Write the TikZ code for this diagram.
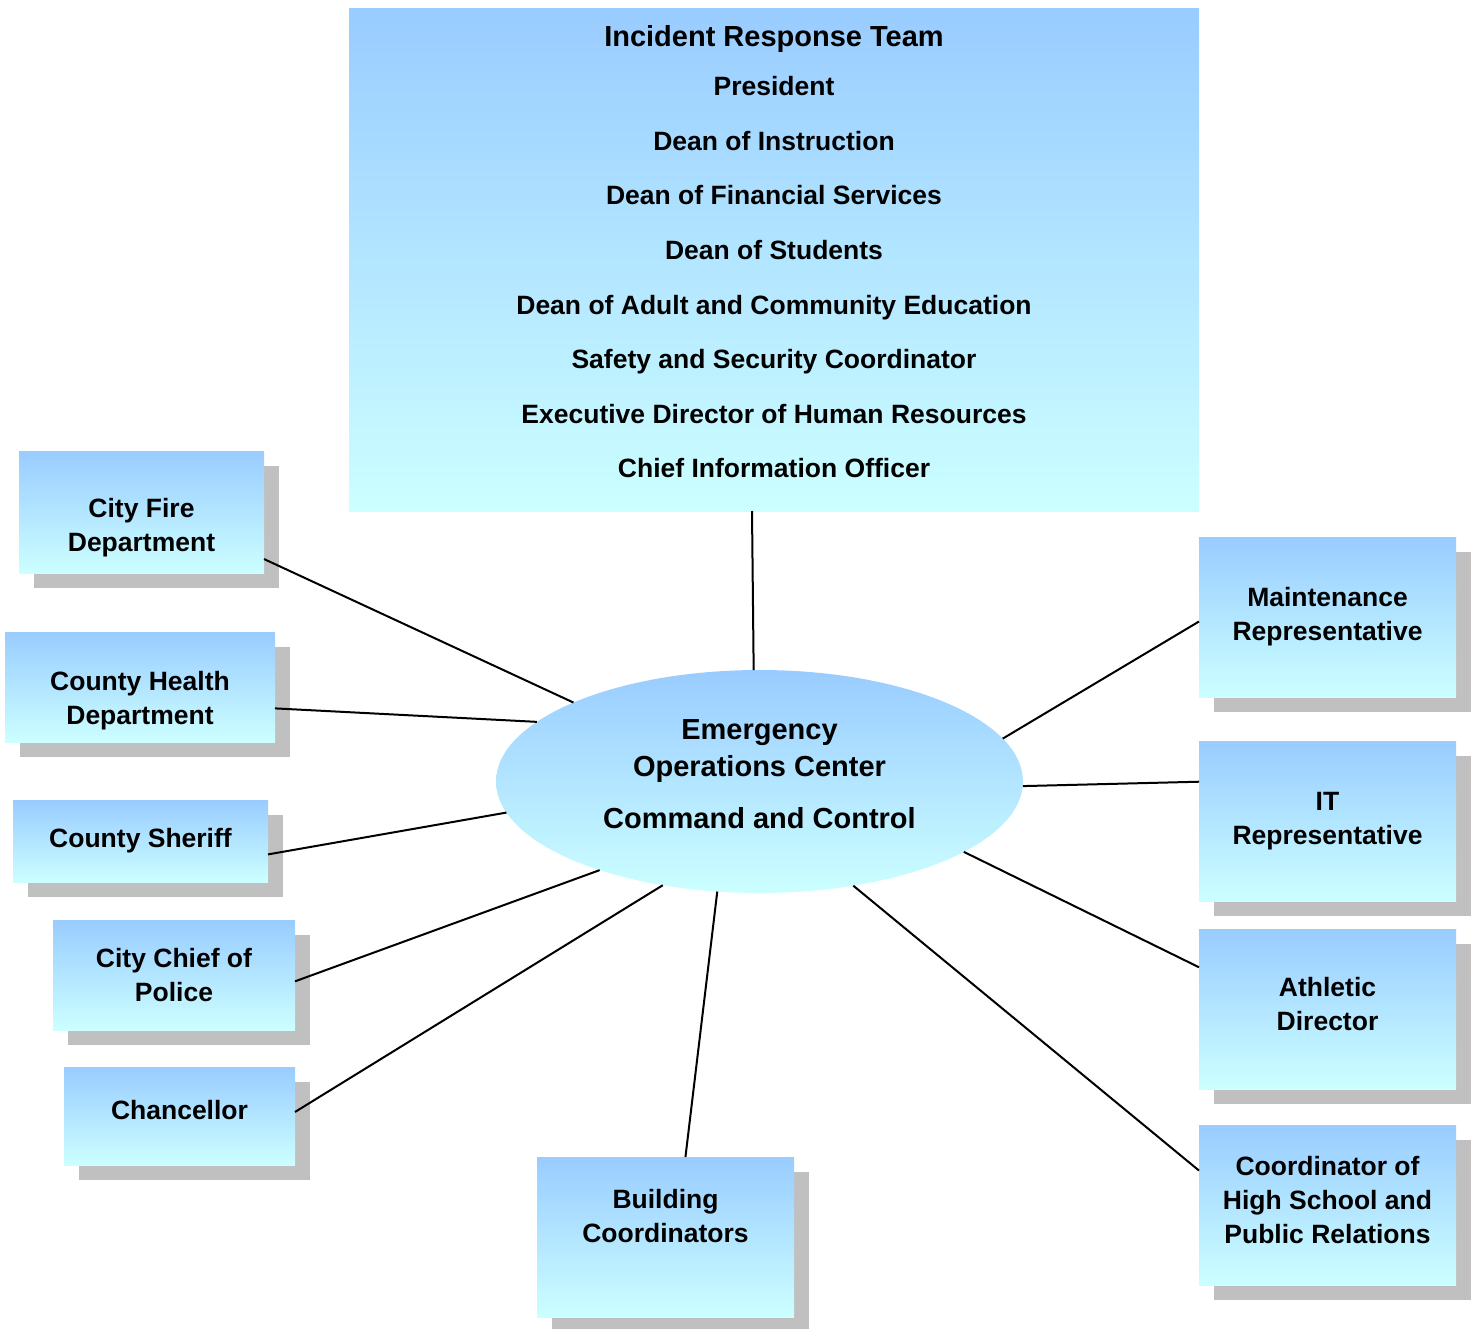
\documentclass[tikz,border=0pt]{standalone}
\usepackage{fontspec}
\setmainfont{Liberation Sans}
\usetikzlibrary{shapes.geometric,shadows}
\definecolor{topblue}{HTML}{99CCFF}
\definecolor{lowcyan}{HTML}{CCFFFF}
\definecolor{shadowgray}{HTML}{C0C0C0}
\tikzset{
  grad/.style={top color=topblue,bottom color=lowcyan,draw=none,inner sep=0pt,outer sep=0pt,align=center,
    font=\bfseries\fontsize{26.5}{34}\selectfont},
  unit/.style={grad,rectangle,minimum width=257pt,minimum height=160pt,
    drop shadow={shadow xshift=15pt,shadow yshift=-15pt,fill=shadowgray,opacity=1}},
  link/.style={draw=black,line width=2pt}
}
\begin{document}
\begin{tikzpicture}[x=1pt,y=-1pt]
\useasboundingbox (0,0) rectangle (1475,1328);

\node[grad,rectangle,minimum width=850pt,minimum height=503pt,text depth=16pt,font=\bfseries\fontsize{26.5}{54.6}\selectfont] (irt) at (774,259.5)
  {{\fontsize{29}{29}\selectfont Incident Response Team}\\[-5pt]
   President\\Dean of Instruction\\Dean of Financial Services\\Dean of Students\\
   Dean of Adult and Community Education\\Safety and Security Coordinator\\
   Executive Director of Human Resources\\Chief Information Officer};
\node[grad,ellipse,minimum width=527pt,minimum height=223pt,text depth=14pt,font=\bfseries\fontsize{29}{37}\selectfont] (eoc) at (759.5,781.5)
  {Emergency\\Operations Center\\[15pt]Command and Control};

\node[unit,minimum width=245pt,minimum height=122pt,text height=84.5pt] (fire) at (141.5,512) {City Fire\\Department};
\node[unit,minimum width=270pt,minimum height=110pt,text height=79.5pt] (health) at (140,687) {County Health\\Department};
\node[unit,minimum width=255pt,minimum height=82pt] (sheriff) at (140.5,841) {County Sheriff};
\node[unit,minimum width=242pt,minimum height=110pt] (police) at (174,975) {City Chief of\\Police};
\node[unit,minimum width=231pt,minimum height=98pt,text depth=12pt] (chancellor) at (179.5,1116) {Chancellor};
\node[unit,text depth=42pt] (building) at (665.5,1237) {Building\\Coordinators};
\node[unit] (maint) at (1327.5,617) {Maintenance\\Representative};
\node[unit] (it) at (1327.5,821) {IT\\Representative};
\node[unit,text depth=10pt] (athletic) at (1327.5,1009) {Athletic\\Director};
\node[unit,text depth=10pt] (coord) at (1327.5,1205) {Coordinator of\\High School and\\Public Relations};

\draw[link] (irt.-95) -- (eoc.93.8);
\draw[link] (fire.-21.8) -- (eoc.157.6);
\draw[link] (health.-9.7) -- (eoc.165);
\draw[link] (sheriff.-6.3) -- (eoc.-173.4);
\draw[link] (police.-3.8) -- (eoc.-151.8);
\draw[link] (chancellor.2) -- (eoc.-133.9);
\draw[link] (building.76.3) -- (eoc.-111);
\draw[link] (coord.165.6) -- (eoc.-48.2);
\draw[link] (athletic.162.3) -- (eoc.-19.7);
\draw[link] (it.163.5) -- (eoc.-1.8);
\draw[link] (maint.-178.7) -- (eoc.10.9);
\end{tikzpicture}
\end{document}
